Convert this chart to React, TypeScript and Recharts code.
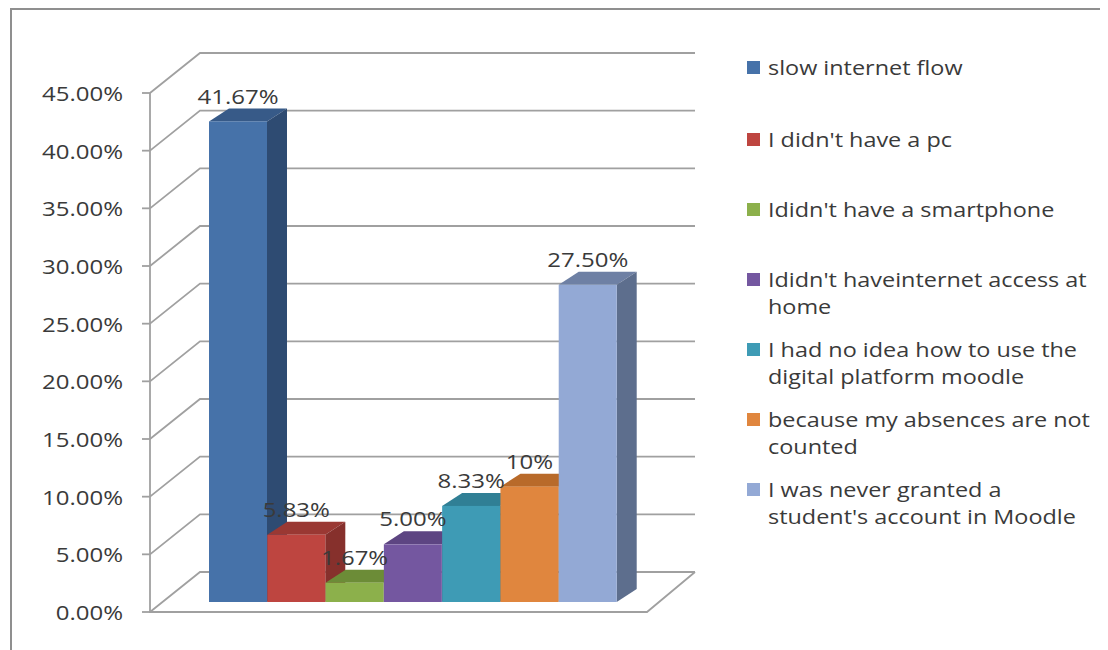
import { BarChart, Bar, Cell, XAxis, YAxis, CartesianGrid, Legend } from 'recharts';

const categories = [
  'slow internet flow',
  "I didn't have a pc",
  "Ididn't have a smartphone",
  "Ididn't haveinternet access at home",
  'I had no idea how to use the digital platform moodle',
  'because my absences are not counted',
  "I was never granted a student's account in Moodle",
];

// legend text broken where the original breaks it
const legendLines = [
  ['slow internet flow'],
  ["I didn't have a pc"],
  ["Ididn't have a smartphone"],
  ["Ididn't haveinternet access at", 'home'],
  ['I had no idea how to use the', 'digital platform moodle'],
  ['because my absences are not', 'counted'],
  ['I was never granted a', "student's account in Moodle"],
];

const values = [41.67, 5.83, 1.67, 5.0, 8.33, 10, 27.5];
const valueLabels = ['41.67%', '5.83%', '1.67%', '5.00%', '8.33%', '10%', '27.50%'];
const yTicks = [0, 5, 10, 15, 20, 25, 30, 35, 40, 45];

// front, side, top
const colors = [
  ['#4672a9', '#2e4b72', '#375a88'],
  ['#be4540', '#86302c', '#9a3833'],
  ['#8cb04b', '#5d7a2f', '#6c8c37'],
  ['#7457a0', '#4e3a6e', '#5d4582'],
  ['#3e9bb5', '#2a6d80', '#307f95'],
  ['#e0863e', '#a65d22', '#b86a2a'],
  ['#93a9d5', '#5d6e8d', '#6e80a4'],
];

const data = categories.map((name, i) => ({ name, value: values[i] }));

const FONT = '"Open Sans", sans-serif';
const TEXT = '#3a3a3a';
const GRID = '#a0a0a0';
const STRETCH = 1.2; // the source text is wider than the installed fonts
const AXIS_X = 142; // front axis line
const BACK_DX = 50;
const BACK_DY = -40;
const FRONT_DY = 10; // front plane sits below bar plane
const WALL_RIGHT = 687;
const FLOOR_RIGHT = 639;
const PLOT_BOTTOM = 594;
const PLOT_TOP = 75;
const DEPTH_X = 20;
const DEPTH_Y = -13;

const Box = (props: any) => {
  const { x, y, width, height, index } = props;
  const [front, side, top] = colors[index];
  const x2 = x + width;
  const y2 = y + height;
  return (
    <g>
      <polygon
        points={`${x},${y} ${x + DEPTH_X},${y + DEPTH_Y} ${x2 + DEPTH_X},${y + DEPTH_Y} ${x2},${y}`}
        fill={top}
      />
      <polygon
        points={`${x2},${y} ${x2 + DEPTH_X},${y + DEPTH_Y} ${x2 + DEPTH_X},${y2 + DEPTH_Y} ${x2},${y2}`}
        fill={side}
      />
      <rect x={x} y={y} width={width} height={height} fill={front} />
    </g>
  );
};

const renderLabel = (props: any) => {
  const { x, y, width, index } = props;
  return (
    <text
      transform={`translate(${x + width / 2},${y - 26}) scale(${STRETCH},1)`}
      textAnchor="middle"
      dominantBaseline="central"
      fill={TEXT}
      fontFamily={FONT}
      fontSize={20}
    >
      {valueLabels[index]}
    </text>
  );
};

const GridLine = (props: any) => {
  const y = props.y1;
  const isFloor = Math.abs(y - PLOT_BOTTOM) < 1;
  return (
    <g key={`g-${y}`}>
      <path
        d={`M${AXIS_X},${y + FRONT_DY} L${AXIS_X + BACK_DX},${y + FRONT_DY + BACK_DY} L${WALL_RIGHT},${y + FRONT_DY + BACK_DY}`}
        stroke={GRID}
        strokeWidth={1.8}
        fill="none"
      />
      {isFloor && (
        <path
          d={`M${AXIS_X},${PLOT_TOP + FRONT_DY} L${AXIS_X},${y + FRONT_DY} L${FLOOR_RIGHT},${y + FRONT_DY} L${WALL_RIGHT},${y + FRONT_DY + BACK_DY}`}
          stroke={GRID}
          strokeWidth={1.8}
          fill="none"
        />
      )}
    </g>
  );
};

const YTick = (props: any) => {
  const { y, payload } = props;
  const ty = y + FRONT_DY;
  return (
    <g>
      <line x1={AXIS_X - 8} y1={ty} x2={AXIS_X} y2={ty} stroke={GRID} strokeWidth={1.8} />
      <text
        transform={`translate(115,${ty}) scale(${STRETCH},1)`}
        textAnchor="end"
        dominantBaseline="central"
        fill={TEXT}
        fontFamily={FONT}
        fontSize={20}
      >
        {payload.value.toFixed(2) + '%'}
      </text>
    </g>
  );
};

const LegendBlock = () => (
  <div style={{ fontFamily: FONT, fontSize: 20, color: TEXT, lineHeight: '27px' }}>
    {legendLines.map((lines, i) => (
      <div key={i} style={{ position: 'absolute', left: 0, top: i * 70 + (i === 0 ? 0 : 2), width: 360 }}>
        <span
          style={{
            position: 'absolute',
            left: 0,
            top: 7,
            width: 13,
            height: 13,
            background: colors[i][0],
          }}
        />
        {lines.map((t, j) => (
          <div
            key={j}
            style={{
              marginLeft: 21,
              whiteSpace: 'nowrap',
              transform: `scaleX(${STRETCH - 0.03})`,
              transformOrigin: 'left center',
            }}
          >
            {t}
          </div>
        ))}
      </div>
    ))}
  </div>
);

export default function App() {
  return (
    <div style={{ position: 'relative', width: 1100, height: 642 }}>
      <div
        style={{
          position: 'absolute',
          left: 2,
          top: 0,
          width: 1200,
          height: 700,
          border: '2px solid #8f8f8f',
        }}
      />
      <BarChart
        width={1100}
        height={642}
        data={data}
        margin={{ top: PLOT_TOP, right: 491, bottom: 642 - PLOT_BOTTOM, left: 0 }}
        barCategoryGap={0}
        style={{ position: 'absolute', left: 0, top: 0 }}
      >
        <CartesianGrid horizontal={GridLine} vertical={false} />
        <XAxis dataKey="name" hide />
        <YAxis
          width={201}
          domain={[0, 45]}
          ticks={yTicks}
          interval={0}
          axisLine={false}
          tickLine={false}
          tick={<YTick />}
        />
        <Legend
          layout="horizontal"
          align="center"
          verticalAlign="middle"
          content={<LegendBlock />}
          wrapperStyle={{ position: 'absolute', left: 739, top: 46, width: 360, height: 520 }}
        />
        <Bar dataKey="value" shape={<Box />} label={renderLabel} isAnimationActive={false}>
          {data.map((d, i) => (
            <Cell key={d.name} fill={colors[i][0]} />
          ))}
        </Bar>
      </BarChart>
    </div>
  );
}
